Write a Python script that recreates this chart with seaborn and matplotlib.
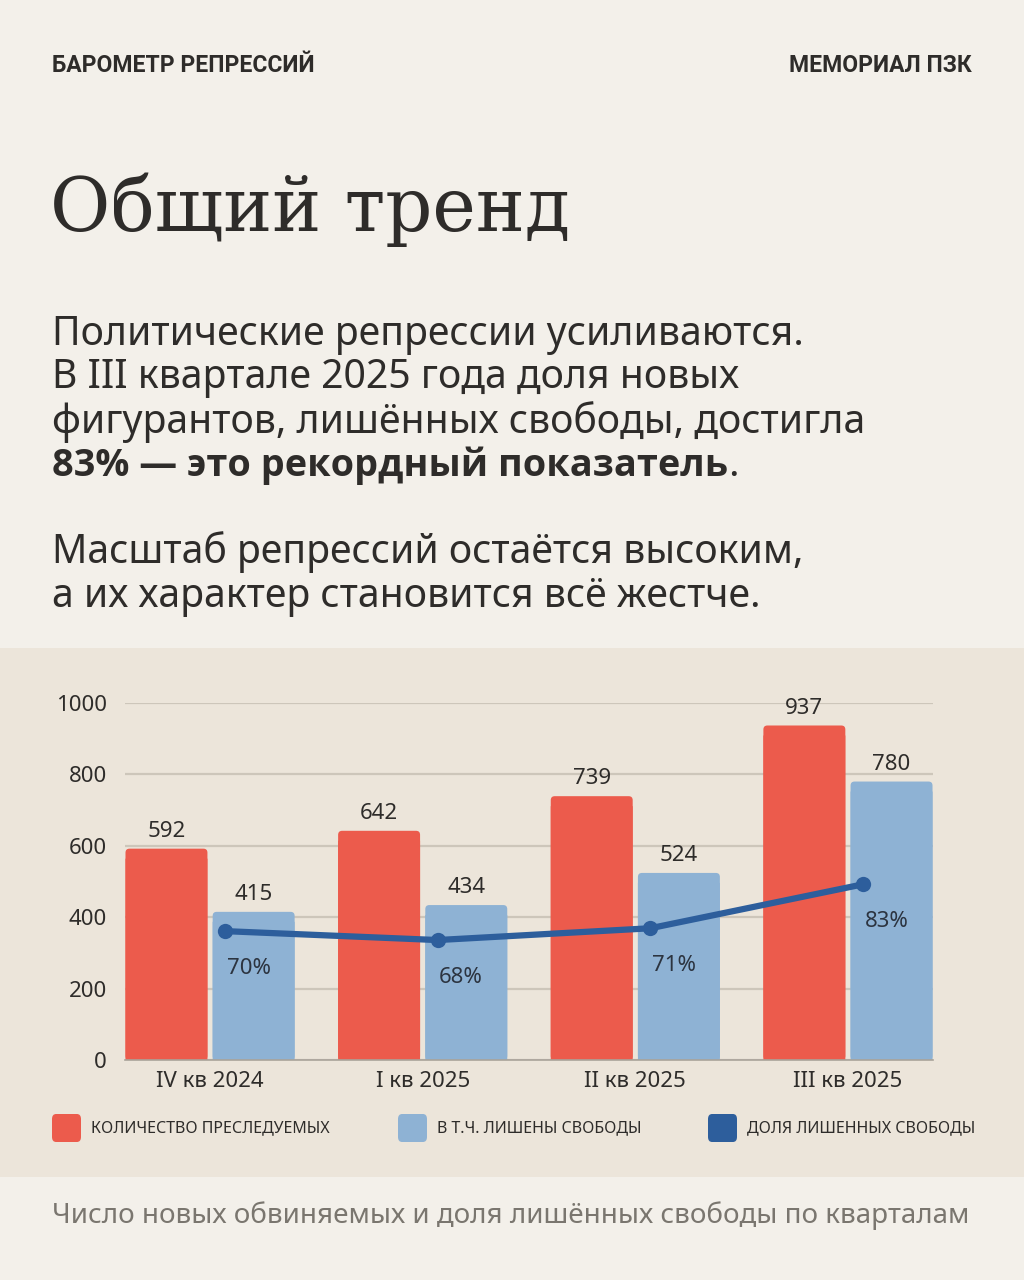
import numpy as np
import pandas as pd
import seaborn as sns
from matplotlib import pyplot as plt
from matplotlib.patches import Rectangle, FancyBboxPatch

# данные
quarters = ["IV кв 2024", "I кв 2025", "II кв 2025", "III кв 2025"]
total = [592, 642, 739, 937]
jailed = [415, 434, 524, 780]
share = [70, 68, 71, 83]
share_exact = [0.701, 0.676, 0.709, 0.832]
series_names = ["Количество преследуемых", "в т.ч. лишены свободы"]
legend_labels = ["КОЛИЧЕСТВО ПРЕСЛЕДУЕМЫХ", "В Т.Ч. ЛИШЕНЫ СВОБОДЫ", "ДОЛЯ ЛИШЕННЫХ СВОБОДЫ"]

RED = "#EC5B4C"
LBLUE = "#8EB2D4"
DBLUE = "#2D5E9C"
TXT = "#2E2C2A"
BG = "#F3F0EA"
PANEL = "#ECE5DA"

sns.set_theme(style="white")
plt.rcParams['font.family'] = ['Noto Sans', 'DejaVu Sans']

fig = plt.figure(figsize=(10.24, 12.8), dpi=100)
fig.patch.set_facecolor(BG)

# фон панели графика
fig.add_artist(Rectangle((0, 1 - 1177 / 1280), 1, (1177 - 648) / 1280,
                         transform=fig.transFigure, facecolor=PANEL, edgecolor='none', zorder=0))

def fy(py):
    return 1 - py / 1280

# шапка
fig.text(52 / 1024, fy(65), "БАРОМЕТР РЕПРЕССИЙ", fontsize=16.5, fontweight='bold',
         color=TXT, va='center', ha='left', family=['Roboto', 'DejaVu Sans'])
fig.text(972 / 1024, fy(65), "МЕМОРИАЛ ПЗК", fontsize=16.5, fontweight='bold',
         color=TXT, va='center', ha='right', family=['Roboto', 'DejaVu Sans'])

fig.text(50 / 1024, fy(210), "Общий тренд", fontsize=53, color=TXT,
         va='center', ha='left', family=['DejaVu Serif'])

BODY = 28.2
para1 = ["Политические репрессии усиливаются.",
         "В III квартале 2025 года доля новых",
         "фигурантов, лишённых свободы, достигла"]
for i, line in enumerate(para1):
    fig.text(52 / 1024, fy(335 + 43.5 * i), line, fontsize=BODY, color=TXT, va='center', ha='left')
bold_t = fig.text(52 / 1024, fy(465.5), "83% — это рекордный показатель", fontsize=27.3,
                  fontweight='bold', color=TXT, va='center', ha='left',
                  family=['Open Sans', 'Roboto', 'DejaVu Sans'])
fig.canvas.draw()
bb = bold_t.get_window_extent(renderer=fig.canvas.get_renderer())
fig.text(bb.x1 / 1024, fy(465.5), ".", fontsize=BODY, color=TXT, va='center', ha='left')

para2 = ["Масштаб репрессий остаётся высоким,", "а их характер становится всё жестче."]
for i, line in enumerate(para2):
    fig.text(52 / 1024, fy(552 + 45 * i), line, fontsize=BODY, color=TXT, va='center', ha='left')

# график
ax_l, ax_r, ax_t, ax_b = 125, 933, 703, 1060
ax = fig.add_axes([ax_l / 1024, 1 - ax_b / 1280, (ax_r - ax_l) / 1024, (ax_b - ax_t) / 1280])
ax.set_facecolor('none')

df = pd.DataFrame({
    "quarter": quarters * 2,
    "value": total + jailed,
    "series": [series_names[0]] * 4 + [series_names[1]] * 4,
})
sns.barplot(data=df, x="quarter", y="value", hue="series", palette=[RED, LBLUE],
            width=0.82, gap=0.06, ax=ax, legend=False, saturation=1, zorder=2)

# скругление верхних углов
x_per_px = 3.8 / (ax_r - ax_l)
y_per_px = 1000 / (ax_b - ax_t)
aspect = y_per_px / x_per_px
r = 4 * x_per_px
ry = 10 * y_per_px
for p in list(ax.patches):
    x, y, w, h = p.get_x(), p.get_y(), p.get_width(), p.get_height()
    fc = p.get_facecolor()
    p.remove()
    ax.add_patch(FancyBboxPatch((x, y), w, h, boxstyle=f"round,pad=0,rounding_size={r}",
                                mutation_aspect=aspect, facecolor=fc, edgecolor='none',
                                linewidth=0, zorder=2, snap=False))
    ax.add_patch(Rectangle((x, y), w, h - ry, facecolor=fc, edgecolor='none',
                           linewidth=0, zorder=2, snap=False))

for vals, off in [(total, -1), (jailed, 1)]:
    for i, v in enumerate(vals):
        xc = i + off * 0.205
        ax.annotate(str(v), (xc, v), xytext=(0, 5), textcoords='offset points',
                    ha='center', va='bottom', fontsize=16, color=TXT)

ax.set_xlim(-0.4, 3.4)
ax.set_ylim(0, 1000)
ax.set_yticks(range(0, 1001, 200))
ax.yaxis.grid(True, color="#CDC6BA", linewidth=1.6, zorder=0)
ax.set_axisbelow(True)
ax.set_xlabel("")
ax.set_ylabel("")
for s in ["top", "right", "left"]:
    ax.spines[s].set_visible(False)
ax.spines["bottom"].set_color("#A9A39A")
ax.spines["bottom"].set_linewidth(1.2)
ax.tick_params(axis='y', length=0, pad=13, labelsize=16, labelcolor=TXT)
ax.tick_params(axis='x', length=0, pad=8, labelsize=16, labelcolor=TXT)

# доля лишённых свободы — вторая ось
ax2 = ax.twinx()
xs = np.arange(len(quarters)) + 0.07
sns.lineplot(x=xs, y=share_exact, ax=ax2, color=DBLUE, linewidth=4.5,
             marker='o', markersize=11, markeredgewidth=0, zorder=5)
ax2.set_ylim(0.34, 1.34)
ax2.set_xlim(-0.4, 3.4)
ax2.axis('off')
for xv, yv, lab in zip(xs, share_exact, share):
    ax2.annotate(f"{lab}%", (xv, yv), xytext=(17, -27), textcoords='offset points',
                 ha='center', va='center', fontsize=16, color="#2C3440")

# легенда
leg_colors = [RED, LBLUE, DBLUE]
leg_x = [52, 398, 708]
for c, lx, lab in zip(leg_colors, leg_x, legend_labels):
    fig.add_artist(FancyBboxPatch((lx / 1024, fy(1142)), 29 / 1024, 28 / 1280,
                                  boxstyle="round,pad=0,rounding_size=0.004",
                                  transform=fig.transFigure, facecolor=c, edgecolor='none'))
    fig.text((lx + 39) / 1024, fy(1128), lab, fontsize=11.5, color=TXT, va='center', ha='left')

fig.text(52 / 1024, fy(1216), "Число новых обвиняемых и доля лишённых свободы по кварталам",
         fontsize=20, color="#7A766F", va='center', ha='left')

fig.savefig("out.png", dpi=100, facecolor=fig.get_facecolor())
